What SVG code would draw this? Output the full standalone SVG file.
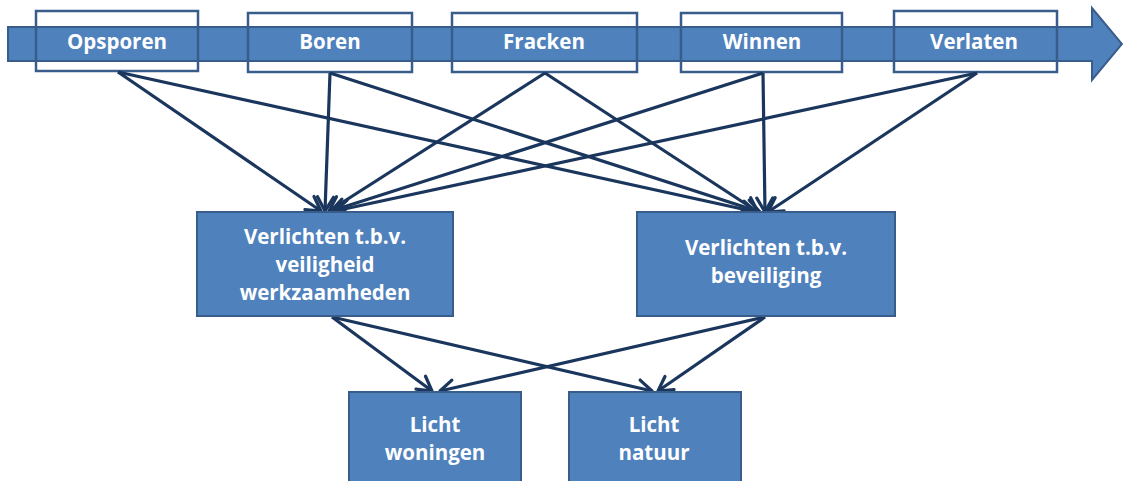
<svg xmlns="http://www.w3.org/2000/svg" width="1123" height="481" viewBox="0 0 1123 481">
<defs>
<marker id="arr" markerUnits="userSpaceOnUse" markerWidth="24" markerHeight="24" viewBox="0 0 24 24" refX="20" refY="12" orient="auto">
<path d="M6,4 L20,12 L6,20" fill="none" stroke="#1B365D" stroke-width="3.2" stroke-linecap="round" stroke-linejoin="round"/>
</marker>
</defs>
<style>
.lbl{font-family:"Open Sans","Liberation Sans",sans-serif;font-weight:700;font-size:20.5px;fill:#fff;text-anchor:middle}
.box{fill:#4F81BD;stroke:#385D8A;stroke-width:2}
.frame{fill:none;stroke:#385D8A;stroke-width:2.5}
.con{stroke:#1B365D;stroke-width:3.2;fill:none;marker-end:url(#arr)}
</style>
<rect width="1123" height="481" fill="#fff"/>
<g id="process-arrow">
<path d="M8,27 L1092,27 L1092,8 L1122,44 L1092,80 L1092,61 L8,61 Z" class="box"/>
</g>
<g id="opsporen"><rect class="frame" x="36" y="11" width="162" height="60"/><text class="lbl" x="117" y="49">Opsporen</text></g>
<g id="boren"><rect class="frame" x="248" y="13" width="164" height="59"/><text class="lbl" x="330" y="49">Boren</text></g>
<g id="fracken"><rect class="frame" x="452" y="13" width="185" height="59"/><text class="lbl" x="544" y="49">Fracken</text></g>
<g id="winnen"><rect class="frame" x="681" y="13" width="161" height="59"/><text class="lbl" x="762" y="49">Winnen</text></g>
<g id="verlaten"><rect class="frame" x="894" y="11" width="163" height="61"/><text class="lbl" x="974" y="49">Verlaten</text></g>
<g id="connectors">
<line class="con" x1="118" y1="72" x2="321" y2="211"/>
<line class="con" x1="118" y1="72" x2="756" y2="212"/>
<line class="con" x1="330" y1="73" x2="325" y2="211"/>
<line class="con" x1="330" y1="73" x2="760" y2="212"/>
<line class="con" x1="545" y1="73" x2="329" y2="211"/>
<line class="con" x1="545" y1="73" x2="758" y2="212"/>
<line class="con" x1="763" y1="73" x2="331" y2="211"/>
<line class="con" x1="763" y1="73" x2="765" y2="212"/>
<line class="con" x1="977" y1="73" x2="335" y2="211"/>
<line class="con" x1="977" y1="73" x2="768" y2="212"/>
<line class="con" x1="332" y1="317" x2="432" y2="391"/>
<line class="con" x1="332" y1="317" x2="652" y2="391"/>
<line class="con" x1="765" y1="317" x2="440" y2="391"/>
<line class="con" x1="765" y1="317" x2="658" y2="391"/>
</g>
<g id="veiligheid"><rect class="box" x="197" y="212" width="256" height="104"/>
<text class="lbl" x="325" y="244">Verlichten t.b.v.</text>
<text class="lbl" x="325" y="272">veiligheid</text>
<text class="lbl" x="325" y="300">werkzaamheden</text></g>
<g id="beveiliging"><rect class="box" x="637" y="212" width="258" height="104"/>
<text class="lbl" x="766" y="255">Verlichten t.b.v.</text>
<text class="lbl" x="766" y="283">beveiliging</text></g>
<g id="woningen"><rect class="box" x="349" y="392" width="172" height="100"/>
<text class="lbl" x="435" y="432">Licht</text>
<text class="lbl" x="435" y="460">woningen</text></g>
<g id="natuur"><rect class="box" x="569" y="392" width="172" height="100"/>
<text class="lbl" x="654" y="432">Licht</text>
<text class="lbl" x="654" y="460">natuur</text></g>
</svg>
